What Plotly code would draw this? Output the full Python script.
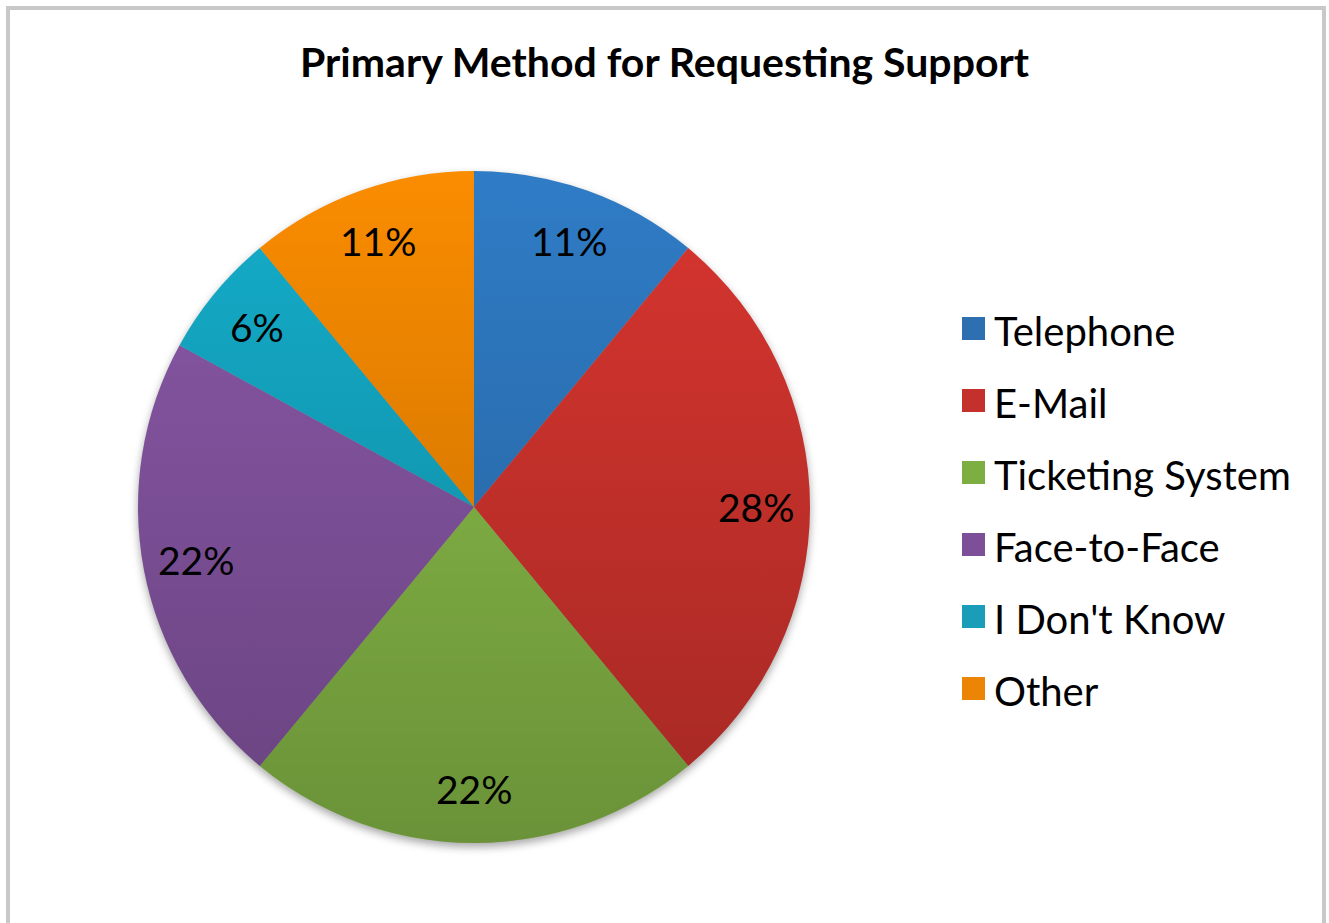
import base64
import math

import plotly.graph_objects as go

# Survey results: primary method for requesting support
methods = ["Telephone", "E-Mail", "Ticketing System", "Face-to-Face", "I Don't Know", "Other"]
shares = [11, 28, 22, 22, 6, 11]
colors = ["#2F7CC6", "#D8352F", "#8CC04A", "#8A58A8", "#14ADCA", "#FA8C00"]
legend_colors = ["#2E6FB2", "#C4302C", "#7DAE42", "#7C4F98", "#1A9DB8", "#EC8506"]

W, H = 1329, 923
# pie geometry in pixels
cx, cy, r = 474, 507, 336
dom_x = [(cx - r) / W, (cx + r) / W]
dom_y = [1 - (cy + r) / H, 1 - (cy - r) / H]

FONT = "Lato, Open Sans, sans-serif"

fig = go.Figure()
fig.add_trace(go.Pie(
    labels=methods,
    values=shares,
    sort=False,
    direction="clockwise",
    rotation=0,
    marker=dict(colors=colors, line=dict(width=0)),
    textinfo="none",
    hoverinfo="label+percent",
    showlegend=False,
    domain=dict(x=dom_x, y=dom_y),
))

# percentage labels placed along each slice's mid-angle
annotations = []
total = sum(shares)
cum = 0
for name, v in zip(methods, shares):
    mid = (cum + v / 2) / total * 2 * math.pi
    cum += v
    rr = 0.84 * r
    px = cx + rr * math.sin(mid)
    py = cy - rr * math.cos(mid)
    annotations.append(dict(
        x=px / W, y=1 - py / H, xref="paper", yref="paper",
        text=f"{round(v / total * 100)}%", showarrow=False,
        font=dict(family=FONT, size=39, color="#000000"),
        xanchor="center", yanchor="middle",
    ))

# legend: square swatch + label per category
shapes = []
leg_top, leg_step = 329, 72
for i, (name, c) in enumerate(zip(methods, legend_colors)):
    yc = leg_top + i * leg_step
    shapes.append(dict(type="rect", xref="paper", yref="paper",
                       x0=962 / W, x1=985 / W, y0=1 - (yc + 11) / H, y1=1 - (yc - 12) / H,
                       fillcolor=c, line=dict(width=0)))
    annotations.append(dict(
        x=992 / W, y=1 - (yc + 2) / H, xref="paper", yref="paper",
        text=name, showarrow=False, xanchor="left", yanchor="middle",
        font=dict(family=FONT, size=40, color="#000000"),
    ))

# title
annotations.append(dict(
    x=665 / W, y=1 - 62 / H, xref="paper", yref="paper",
    text="<b>Primary Method for Requesting Support</b>", showarrow=False,
    xanchor="center", yanchor="middle",
    font=dict(family=FONT, size=41, color="#000000"),
))

# chart-area border
shapes.append(dict(type="rect", xref="paper", yref="paper",
                   x0=8 / W, x1=1324 / W, y0=-0.05, y1=1 - 8 / H,
                   line=dict(color="#C8C8C8", width=4), fillcolor="rgba(0,0,0,0)"))

# vertical shading across the pie and a soft drop shadow beneath it
shade_svg = (
    '<svg xmlns="http://www.w3.org/2000/svg" width="672" height="672" viewBox="0 0 672 672">'
    '<defs><linearGradient id="g" x1="0" y1="0" x2="0" y2="1">'
    '<stop offset="0" stop-color="#000000" stop-opacity="0"/>'
    '<stop offset="1" stop-color="#000000" stop-opacity="0.24"/>'
    '</linearGradient></defs>'
    '<circle cx="336" cy="336" r="336" fill="url(#g)"/></svg>'
)
shadow_svg = (
    '<svg xmlns="http://www.w3.org/2000/svg" width="712" height="712" viewBox="0 0 712 712">'
    '<defs><filter id="b" x="-10%" y="-10%" width="120%" height="120%">'
    '<feGaussianBlur stdDeviation="4"/></filter></defs>'
    '<circle cx="356" cy="360" r="336" fill="#000000" fill-opacity="0.35" filter="url(#b)"/></svg>'
)


def svg_uri(s):
    return "data:image/svg+xml;base64," + base64.b64encode(s.encode()).decode()


images = [
    dict(source=svg_uri(shadow_svg), xref="paper", yref="paper",
         x=(cx - r - 20) / W, y=1 - (cy - r - 20) / H, sizex=712 / W, sizey=712 / H,
         sizing="stretch", xanchor="left", yanchor="top", layer="below"),
    dict(source=svg_uri(shade_svg), xref="paper", yref="paper",
         x=dom_x[0], y=dom_y[1], sizex=dom_x[1] - dom_x[0], sizey=dom_y[1] - dom_y[0],
         sizing="stretch", xanchor="left", yanchor="top", layer="above"),
]

fig.update_layout(
    width=W, height=H,
    margin=dict(l=0, r=0, t=0, b=0),
    paper_bgcolor="#FFFFFF",
    plot_bgcolor="rgba(0,0,0,0)",
    annotations=annotations,
    shapes=shapes,
    images=images,
)

fig.write_html("out.html")
